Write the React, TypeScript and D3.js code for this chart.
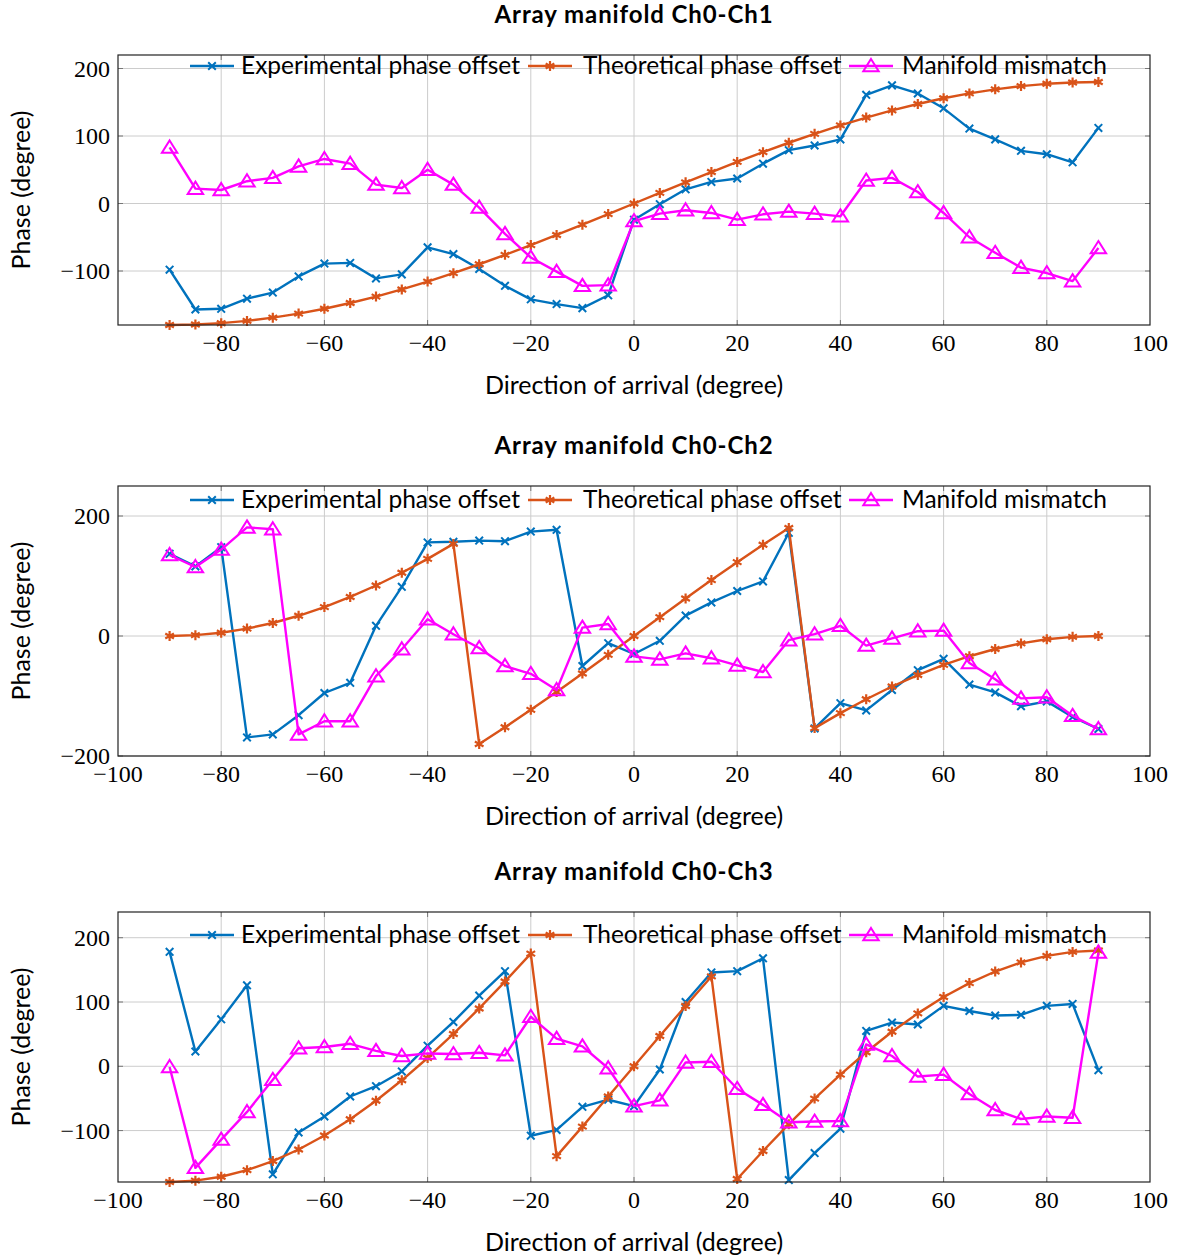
import React from 'react';
import * as d3 from 'd3';

// direction of arrival (degree)
const doa = [-90, -85, -80, -75, -70, -65, -60, -55, -50, -45, -40, -35, -30, -25, -20, -15, -10, -5, 0,
  5, 10, 15, 20, 25, 30, 35, 40, 45, 50, 55, 60, 65, 70, 75, 80, 85, 90];

// Ch0-Ch1
const exp1 = [-98, -157, -156, -141, -132, -108, -89, -88, -111, -105, -65, -75, -97, -122, -142, -149, -155, -136, -24,
  -1, 21, 32, 37, 59, 79, 86, 95, 161, 175, 163, 141, 111, 95, 78, 73, 61, 112];
const theo1 = [-180, -179.3, -177.3, -173.9, -169.1, -163.1, -155.9, -147.4, -137.9, -127.3, -115.7, -103.2, -90, -76.1, -61.6, -46.6, -31.3, -15.7, 0,
  15.7, 31.3, 46.6, 61.6, 76.1, 90, 103.2, 115.7, 127.3, 137.9, 147.4, 155.9, 163.1, 169.1, 173.9, 177.3, 179.3, 180];
const mis1 = [83, 22, 20, 33, 38, 55, 66, 59, 28, 23, 50, 28, -6, -45, -80, -101, -122, -121, -26,
  -15, -10, -14, -24, -16, -12, -15, -19, 34, 38, 17, -14, -50, -73, -95, -103, -115, -66];

// Ch0-Ch2
const exp2 = [137, 116, 148, -169, -164, -132, -95, -78, 17, 82, 156, 157, 159, 158, 174, 177, -50, -12, -30,
  -8, 34, 56, 75, 91, 172, -154, -112, -124, -90, -57, -38, -81, -94, -117, -109, -135, -155];
const theo2 = [0, 1.4, 5.5, 12.3, 21.7, 33.7, 48.2, 65.1, 84.2, 105.4, 128.6, 153.5, -180, -152.1, -123.1, -93.2, -62.5, -31.4, 0,
  31.4, 62.5, 93.2, 123.1, 152.1, 180, -153.5, -128.6, -105.4, -84.2, -65.1, -48.2, -33.7, -21.7, -12.3, -5.5, -1.4, 0];
const mis2 = [135, 115, 144, 181, 178, -164, -142, -142, -67, -22, 28, 3, -20, -50, -63, -90, 14, 20, -34,
  -39, -29, -37, -49, -60, -7, 3, 17, -16, -4, 8, 9, -45, -72, -104, -102, -133, -155];

// Ch0-Ch3
const exp3 = [178, 23, 73, 126, -168, -103, -78, -47, -31, -8, 32, 69, 110, 148, -108, -99, -63, -52, -62,
  -5, 100, 146, 148, 168, -177, -135, -97, 55, 68, 65, 94, 86, 79, 80, 94, 97, -6];
const theo3 = [-180, -177.9, -171.8, -161.6, -147.4, -129.4, -107.7, -82.3, -53.7, -21.8, 12.9, 50.3, 90, 131.8, 175.3, -139.8, -93.8, -47.1, 0,
  47.1, 93.8, 139.8, -175.3, -131.8, -90, -50.3, -12.9, 21.8, 53.7, 82.3, 107.7, 129.4, 147.4, 161.6, 171.8, 177.9, 180];
const mis3 = [-1, -158, -114, -71, -21, 28, 30, 35, 24, 16, 20, 19, 21, 17, 77, 43, 31, -3, -62,
  -53, 6, 7, -35, -60, -87, -86, -85, 34, 16, -16, -13, -43, -68, -82, -78, -80, 177];

const seriesNames = ['Experimental phase offset', 'Theoretical phase offset', 'Manifold mismatch'];
const seriesColors = ['#0072BD', '#D95319', '#FF00FF'];
const seriesMarks = ['x', 'star', 'tri'];

const panels = [
  { title: 'Array manifold Ch0-Ch1', data: [exp1, theo1, mis1], ymin: -180, ymax: 220,
    yticks: [-100, 0, 100, 200], xticks: [-80, -60, -40, -20, 0, 20, 40, 60, 80, 100], top: 55, legendDy: 11 },
  { title: 'Array manifold Ch0-Ch2', data: [exp2, theo2, mis2], ymin: -200, ymax: 250,
    yticks: [-200, 0, 200], xticks: [-100, -80, -60, -40, -20, 0, 20, 40, 60, 80, 100], top: 486, legendDy: 14 },
  { title: 'Array manifold Ch0-Ch3', data: [exp3, theo3, mis3], ymin: -180, ymax: 240,
    yticks: [-100, 0, 100, 200], xticks: [-100, -80, -60, -40, -20, 0, 20, 40, 60, 80, 100], top: 912, legendDy: 23 },
];

const left = 118;
const right = 1150;
const plotH = 270;
const sans = 'Lato, "Open Sans", sans-serif';
const serif = '"Liberation Serif", "DejaVu Serif", serif';
const fmt = (v: number) => (v < 0 ? '\u2212' + Math.abs(v) : String(v));

const Marker = ({ kind, x, y, color }: { kind: string; x: number; y: number; color: string }) => {
  if (kind === 'x') {
    const s = 3.8;
    return (
      <path d={`M${x - s},${y - s}L${x + s},${y + s}M${x - s},${y + s}L${x + s},${y - s}`}
        stroke={color} strokeWidth={2} fill="none" />
    );
  }
  if (kind === 'star') {
    const r = 5;
    let d = '';
    for (let k = 0; k < 3; k++) {
      const a = (Math.PI / 3) * k + Math.PI / 2;
      d += `M${x + r * Math.cos(a)},${y + r * Math.sin(a)}L${x - r * Math.cos(a)},${y - r * Math.sin(a)}`;
    }
    return <path d={d} stroke={color} strokeWidth={2.2} fill="none" />;
  }
  const h = 7;
  return (
    <path d={`M${x},${y - h}L${x + h * 1.1},${y + h * 0.75}L${x - h * 1.1},${y + h * 0.75}Z`}
      stroke={color} strokeWidth={2} fill="none" />
  );
};

const legendPos = [{ line: 190, text: 241 }, { line: 528, text: 583 }, { line: 849, text: 902 }];

const Panel = ({ p }: { p: typeof panels[number] }) => {
  const x = d3.scaleLinear().domain([-100, 100]).range([left, right]);
  const y = d3.scaleLinear().domain([p.ymin, p.ymax]).range([p.top + plotH, p.top]);
  const line = d3.line<number>().x((_, i) => x(doa[i])).y(d => y(d));
  const bottom = p.top + plotH;
  const xgrid = [-80, -60, -40, -20, 0, 20, 40, 60, 80];
  return (
    <g>
      <text x={634} y={p.top - 32} textAnchor="middle" fontFamily={sans} fontWeight="bold" fontSize={24} letterSpacing={0.9}>{p.title}</text>
      {xgrid.map(t => (
        <line key={'gx' + t} x1={x(t)} x2={x(t)} y1={p.top} y2={bottom} stroke="#cccccc" strokeWidth={1} />
      ))}
      {p.yticks.map(t => (
        <line key={'gy' + t} x1={left} x2={right} y1={y(t)} y2={y(t)} stroke="#cccccc" strokeWidth={1} />
      ))}
      {xgrid.map(t => (
        <g key={'tx' + t}>
          <line x1={x(t)} x2={x(t)} y1={bottom} y2={bottom - 5} stroke="#777" />
          <line x1={x(t)} x2={x(t)} y1={p.top} y2={p.top + 5} stroke="#777" />
        </g>
      ))}
      {p.yticks.map(t => (
        <g key={'ty' + t}>
          <line x1={left} x2={left + 5} y1={y(t)} y2={y(t)} stroke="#777" />
          <line x1={right} x2={right - 5} y1={y(t)} y2={y(t)} stroke="#777" />
        </g>
      ))}
      {p.data.map((s, k) => (
        <g key={'s' + k}>
          <path d={line(s) || ''} fill="none" stroke={seriesColors[k]} strokeWidth={2.4} strokeLinejoin="round" />
          {s.map((v, i) => (
            <Marker key={i} kind={seriesMarks[k]} x={x(doa[i])} y={y(v)} color={seriesColors[k]} />
          ))}
        </g>
      ))}
      <rect x={left} y={p.top} width={right - left} height={plotH} fill="none" stroke="#222" strokeWidth={1.2} />
      {p.xticks.map(t => (
        <text key={'lx' + t} x={x(t)} y={bottom + 26} textAnchor="middle" fontFamily={serif} fontSize={24}>{fmt(t)}</text>
      ))}
      {p.yticks.map(t => (
        <text key={'ly' + t} x={left - 8} y={y(t) + 8} textAnchor="end" fontFamily={serif} fontSize={24}>{fmt(t)}</text>
      ))}
      <text x={634} y={bottom + 69} textAnchor="middle" fontFamily={sans} fontSize={25}>Direction of arrival (degree)</text>
      <text transform={`translate(30,${p.top + plotH / 2}) rotate(-90)`} textAnchor="middle" fontFamily={sans} fontSize={25}>Phase (degree)</text>
      {seriesNames.map((name, k) => {
        const ly = p.top + p.legendDy;
        const lp = legendPos[k];
        return (
          <g key={'lg' + k}>
            <line x1={lp.line} x2={lp.line + 44} y1={ly} y2={ly} stroke={seriesColors[k]} strokeWidth={2.4} />
            <Marker kind={seriesMarks[k]} x={lp.line + 22} y={ly} color={seriesColors[k]} />
            <text x={lp.text} y={ly + 8} fontFamily={sans} fontSize={24.5}>{name}</text>
          </g>
        );
      })}
    </g>
  );
};

export default function App() {
  return (
    <div style={{ position: 'absolute', left: 0, top: 0 }}>
      <svg width={1184} height={1258} style={{ display: 'block', background: 'white' }}>
        {panels.map(p => <Panel key={p.title} p={p} />)}
      </svg>
    </div>
  );
}
